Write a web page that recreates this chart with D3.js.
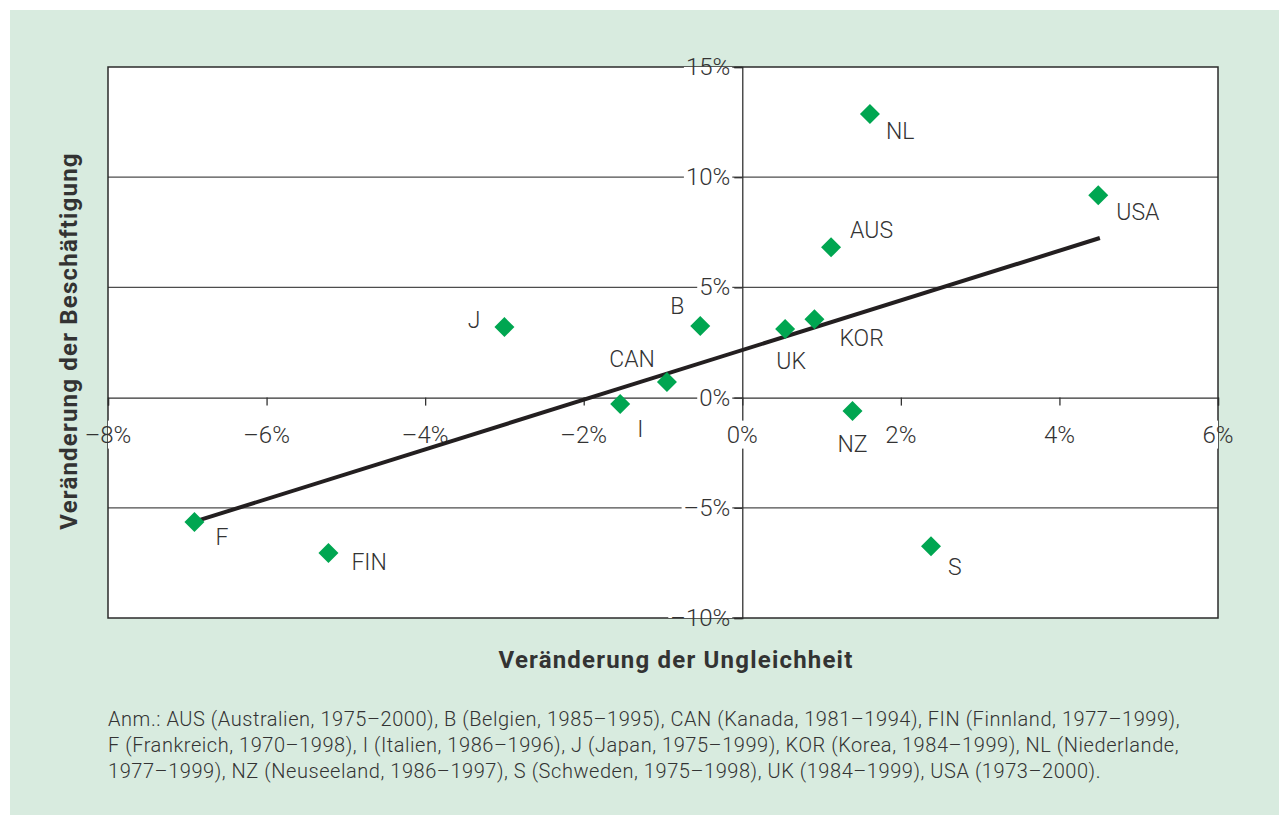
<!DOCTYPE html>
<html>
<head>
<meta charset="utf-8">
<script src="https://cdn.jsdelivr.net/npm/d3@7"></script>
<style>
  body { margin: 0; background: #fff; }
  text { font-family: Roboto, "Open Sans", sans-serif; }
</style>
</head>
<body>
<div id="chart"></div>
<script>
// country codes, change in inequality (x) and change in employment (y), in %
const countries = ['NL', 'USA', 'AUS', 'J', 'B', 'UK', 'KOR', 'CAN', 'I', 'NZ', 'F', 'FIN', 'S']
const inequality = [1.61, 4.49, 1.12, -3.0, -0.53, 0.54, 0.91, -0.95, -1.54, 1.39, -6.91, -5.22, 2.38]
const employment = [12.87, 9.18, 6.82, 3.2, 3.25, 3.11, 3.56, 0.71, -0.29, -0.61, -5.64, -7.05, -6.75]

// trend line ends
const trendX = [-6.84, 4.51]
const trendY = [-5.55, 7.24]

const xTicks = [-8, -6, -4, -2, 0, 2, 4, 6]
const yTicks = [15, 10, 5, 0, -5, -10]

const noteLines = [
  'Anm.: AUS (Australien, 1975–2000), B (Belgien, 1985–1995), CAN (Kanada, 1981–1994), FIN (Finnland, 1977–1999),',
  'F (Frankreich, 1970–1998), I (Italien, 1986–1996), J (Japan, 1975–1999), KOR (Korea, 1984–1999), NL (Niederlande,',
  '1977–1999), NZ (Neuseeland, 1986–1997), S (Schweden, 1975–1998), UK (1984–1999), USA (1973–2000).'
]

const datapoints = countries.map((c, i) => ({ name: c, x: inequality[i], y: employment[i] }))

// where each label sits relative to its diamond
const labelOffset = {
  NL: [16, 18, 'start'], USA: [18, 17, 'start'], AUS: [19, -17, 'start'],
  J: [-24, -7, 'end'], B: [-16, -19, 'end'], UK: [6, 32, 'middle'],
  KOR: [25, 19, 'start'], CAN: [-12, -22, 'end'], I: [17, 26, 'start'],
  NZ: [0, 33, 'middle'], F: [21, 16, 'start'], FIN: [23, 10, 'start'], S: [17, 21, 'start']
}

const W = 1279, H = 818
const margin = { top: 67, right: 61, bottom: 200, left: 108 }
const width = W - margin.left - margin.right
const height = H - margin.top - margin.bottom

const root = d3.select("#chart").append("svg")
  .attr("width", W)
  .attr("height", H)

root.append("rect")
  .attr("x", 10).attr("y", 10)
  .attr("width", W - 10).attr("height", 805)
  .attr("fill", "#d8ebdf")

const svg = root.append("g")
  .attr("transform", "translate(" + margin.left + "," + margin.top + ")")

const xPositionScale = d3.scaleLinear().domain([-8, 6]).range([0, width])
const yPositionScale = d3.scaleLinear().domain([-10, 15]).range([height, 0])

svg.append("rect")
  .attr("width", width).attr("height", height)
  .attr("fill", "#fff")

// grid lines
svg.selectAll(".grid")
  .data(yTicks.filter(d => d !== 0 && d !== 15 && d !== -10))
  .enter().append("line")
  .attr("x1", 0).attr("x2", width)
  .attr("y1", d => yPositionScale(d)).attr("y2", d => yPositionScale(d))
  .attr("stroke", "#4d4d4d").attr("stroke-width", 1.3)

// axes through zero
const xAxis = d3.axisBottom(xPositionScale).tickValues(xTicks).tickSize(8).tickFormat("")
svg.append("g")
  .attr("transform", "translate(0," + yPositionScale(0) + ")")
  .call(xAxis)
  .call(g => g.selectAll("line, path").attr("stroke", "#333").attr("stroke-width", 1.3))

const yAxis = d3.axisLeft(yPositionScale).tickValues(yTicks).tickSize(8).tickFormat("")
svg.append("g")
  .attr("transform", "translate(" + xPositionScale(0) + ",0)")
  .call(yAxis)
  .call(g => g.selectAll("line, path").attr("stroke", "#333").attr("stroke-width", 1.3))

svg.append("rect")
  .attr("width", width).attr("height", height)
  .attr("fill", "none")
  .attr("stroke", "#2b2b2b").attr("stroke-width", 1.5)

const fmt = d => (d < 0 ? "\u2013" + Math.abs(d) : d) + "%"

// tick labels with a white box, clipped to the plot area
function addLabel(x, y, anchor, txt) {
  const g = svg.append("g")
  const rect = g.append("rect").attr("fill", "#fff")
  const t = g.append("text")
    .attr("x", x).attr("y", y)
    .attr("text-anchor", anchor)
    .attr("dominant-baseline", "central")
    .attr("font-size", 24)
    .attr("font-weight", 300)
    .attr("fill", "#333")
    .text(txt)
  const b = t.node().getBBox()
  const x0 = Math.max(b.x - 2, 0), x1 = Math.min(b.x + b.width + 2, width)
  const y0 = Math.max(b.y, 0), y1 = Math.min(b.y + b.height, height)
  rect.attr("x", x0).attr("y", y0)
    .attr("width", Math.max(0, x1 - x0)).attr("height", Math.max(0, y1 - y0))
}

xTicks.forEach(d => addLabel(xPositionScale(d), yPositionScale(0) + 37, "middle", fmt(d)))
yTicks.forEach(d => addLabel(xPositionScale(0) - 12, yPositionScale(d), "end", fmt(d)))

// trend line
svg.append("line")
  .attr("x1", xPositionScale(trendX[0])).attr("y1", yPositionScale(trendY[0]))
  .attr("x2", xPositionScale(trendX[1])).attr("y2", yPositionScale(trendY[1]))
  .attr("stroke", "#231f20").attr("stroke-width", 4)

// diamonds
svg.selectAll(".pt")
  .data(datapoints)
  .enter().append("path")
  .attr("d", d3.symbol().type(d3.symbolSquare).size(200))
  .attr("transform", d => "translate(" + xPositionScale(d.x) + "," + yPositionScale(d.y) + ") rotate(45)")
  .attr("fill", "#00a651")

svg.selectAll(".lbl")
  .data(datapoints)
  .enter().append("text")
  .attr("x", d => xPositionScale(d.x) + labelOffset[d.name][0])
  .attr("y", d => yPositionScale(d.y) + labelOffset[d.name][1])
  .attr("text-anchor", d => labelOffset[d.name][2])
  .attr("dominant-baseline", "central")
  .attr("font-size", 23)
  .attr("font-weight", 300)
  .attr("fill", "#333")
  .text(d => d.name)

// axis titles
root.append("text")
  .attr("x", 676).attr("y", 668)
  .attr("text-anchor", "middle")
  .attr("font-size", 24)
  .attr("font-weight", "bold")
  .attr("letter-spacing", 1.2)
  .attr("fill", "#333")
  .text("Veränderung der Ungleichheit")

root.append("text")
  .attr("transform", "translate(77,341) rotate(-90)")
  .attr("text-anchor", "middle")
  .attr("font-size", 24)
  .attr("font-weight", "bold")
  .attr("letter-spacing", 1.2)
  .attr("fill", "#333")
  .text("Veränderung der Beschäftigung")

// note
root.selectAll(".note")
  .data(noteLines)
  .enter().append("text")
  .attr("x", 108)
  .attr("y", (d, i) => 726 + i * 26)
  .attr("font-size", 20)
  .attr("font-weight", 300)
  .attr("letter-spacing", 0.55)
  .attr("fill", "#333")
  .text(d => d)
</script>
</body>
</html>
